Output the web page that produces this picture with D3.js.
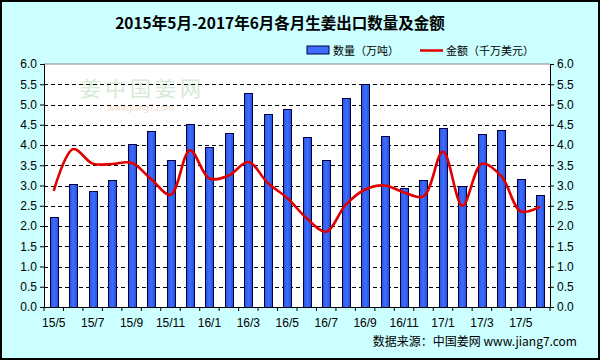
<!DOCTYPE html>
<html><head><meta charset="utf-8">
<script src="https://cdn.jsdelivr.net/npm/d3@7"></script>
<style>
html,body{margin:0;padding:0;background:#fff;}
svg{display:block;}
</style></head>
<body>
<svg id="c" width="600" height="360"></svg>
<script>
const categories = ["15/5","15/6","15/7","15/8","15/9","15/10","15/11","15/12","16/1","16/2","16/3","16/4","16/5","16/6","16/7","16/8","16/9","16/10","16/11","16/12","17/1","17/2","17/3","17/4","17/5","17/6"];
const quantity = [2.22,3.04,2.87,3.14,4.03,4.35,3.63,4.52,3.96,4.30,5.29,4.77,4.90,4.20,3.63,5.15,5.51,4.23,2.93,3.14,4.42,3.00,4.27,4.37,3.16,2.77];
const amount = [2.87,3.90,3.54,3.53,3.56,3.16,2.77,3.87,3.17,3.25,3.58,3.06,2.69,2.19,1.86,2.52,2.90,3.00,2.83,2.73,3.84,2.50,3.54,3.23,2.36,2.48];
const yTicks = [0,0.5,1,1.5,2,2.5,3,3.5,4,4.5,5,5.5,6];
const title = "2015年5月-2017年6月各月生姜出口数量及金额";
const legendLabels = ["数量（万吨）","金额（千万美元）"];
const sourceText = "数据来源：中国姜网 www.jiang7.com";

const svg = d3.select("#c");
const W = 600, H = 360;
const L = 44, R = 550, T = 64, B = 307;

svg.append("rect").attr("x",1).attr("y",1).attr("width",W-2).attr("height",H-2)
  .attr("fill","#ccffff").attr("stroke","#000").attr("stroke-width",2);

const defs = svg.append("defs");
const g = defs.append("linearGradient").attr("id","barg").attr("x1","0").attr("x2","1").attr("y1","0").attr("y2","0");
g.append("stop").attr("offset","0%").attr("stop-color","#2a55e0");
g.append("stop").attr("offset","50%").attr("stop-color","#3d6cff");
g.append("stop").attr("offset","100%").attr("stop-color","#2450d8");

// plot area
svg.append("rect").attr("x",L).attr("y",T).attr("width",R-L).attr("height",B-T).attr("fill","#fff");
svg.append("line").attr("x1",L).attr("x2",R).attr("y1",T).attr("y2",T).attr("stroke","#888").attr("stroke-width",1);

const x = d3.scaleBand().domain(categories).range([L,R]).paddingInner(0).paddingOuter(0);
const y = d3.scaleLinear().domain([0,6]).range([B,T]);

// watermark
svg.append("text").attr("x",80).attr("y",96).attr("font-family","Noto Sans CJK SC").attr("font-size",21)
  .attr("fill","#d6ead6").attr("letter-spacing",4).text("姜中国姜网");
svg.append("text").attr("x",108).attr("y",111).attr("font-family","DejaVu Sans").attr("font-size",8)
  .attr("fill","#f3d9c8").text("www.jiang7.com");

// gridlines
svg.append("g").selectAll("line").data(yTicks.filter(d=>d>0 && d<6)).join("line")
  .attr("x1",L).attr("x2",R).attr("y1",d=>Math.round(y(d))+0.5).attr("y2",d=>Math.round(y(d))+0.5)
  .attr("stroke","#000").attr("stroke-width",1).attr("stroke-dasharray","4,3");

// bars
const bw = 8;
svg.append("g").selectAll("rect").data(quantity).join("rect")
  .attr("x",(d,i)=>Math.round(x(categories[i]) + x.bandwidth()/2 - bw/2)+0.5)
  .attr("y",d=>Math.round(y(d))+0.5)
  .attr("width",bw)
  .attr("height",d=>B - Math.round(y(d)))
  .attr("fill","url(#barg)").attr("stroke","#000040").attr("stroke-width",1);

// line
const line = d3.line().x((d,i)=>x(categories[i])+x.bandwidth()/2).y(d=>y(d)).curve(d3.curveCatmullRom.alpha(0.5));
svg.append("path").datum(amount).attr("d",line).attr("fill","none").attr("stroke","#e00000").attr("stroke-width",2.6);

// axes
const fmt = d3.format(".1f");
const left = d3.axisLeft(y).tickValues(yTicks).tickFormat(fmt).tickSize(4).tickPadding(3);
const right = d3.axisRight(y).tickValues(yTicks).tickFormat(fmt).tickSize(4).tickPadding(3);
const la = svg.append("g").attr("transform",`translate(${L},0)`).call(left);
const ra = svg.append("g").attr("transform",`translate(${R},0)`).call(right);
[la,ra].forEach(a=>{
  a.select(".domain").attr("stroke","#000");
  a.selectAll("text").attr("font-family","Liberation Sans, Arial").attr("font-size",12).attr("fill","#000");
});

// x axis
const xa = svg.append("g");
xa.append("line").attr("x1",L).attr("x2",R).attr("y1",B+0.5).attr("y2",B+0.5).attr("stroke","#000");
xa.selectAll("line.t").data(categories.concat(["_end"])).join("line").attr("class","t")
  .attr("x1",(d,i)=> i<categories.length ? x(d) : R).attr("x2",(d,i)=> i<categories.length ? x(d) : R)
  .attr("y1",B).attr("y2",B+4).attr("stroke","#000");
xa.selectAll("text").data(categories.filter((d,i)=>i%2===0)).join("text")
  .attr("x",d=>x(d)+x.bandwidth()/2).attr("y",327).attr("text-anchor","middle")
  .attr("font-family","Liberation Sans, Arial").attr("font-size",12).attr("fill","#000").text(d=>d);

// title
svg.append("text").attr("x",280).attr("y",29).attr("text-anchor","middle")
  .attr("font-family","Noto Sans CJK SC").attr("font-weight","bold").attr("font-size",15.5).attr("fill","#000").text(title);

// legend
svg.append("rect").attr("x",307).attr("y",46).attr("width",22).attr("height",8).attr("fill","#3d6cff").attr("stroke","#000040");
svg.append("text").attr("x",333).attr("y",55).attr("font-family","Noto Sans CJK SC").attr("font-size",11).text(legendLabels[0]);
svg.append("line").attr("x1",420).attr("x2",443).attr("y1",50.5).attr("y2",50.5).attr("stroke","#e00000").attr("stroke-width",2.5);
svg.append("text").attr("x",446).attr("y",55).attr("font-family","Noto Sans CJK SC").attr("font-size",11).text(legendLabels[1]);

// source
svg.append("text").attr("x",577).attr("y",346).attr("text-anchor","end")
  .attr("font-family","Noto Sans CJK SC").attr("font-size",12).attr("fill","#000").text(sourceText);
</script>
</body></html>
